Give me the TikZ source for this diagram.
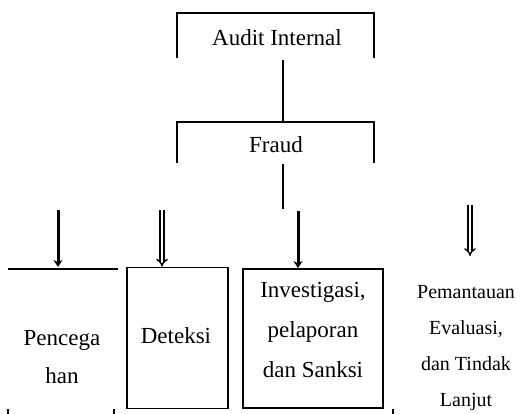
\documentclass[tikz,border=0pt]{standalone}
\usepackage{fontspec}
\setmainfont{Liberation Serif}
\usetikzlibrary{arrows.meta}
\begin{document}
\begin{tikzpicture}[x=1pt,y=-1pt,
  lbl/.style={font=\fontsize{23}{38}\selectfont, align=center, inner sep=0pt},
  lblb/.style={font=\fontsize{20}{36}\selectfont, align=center, inner sep=0pt},
  brk/.style={line width=1.8pt},
  boxline/.style={line width=1.8pt},
  sarrow/.style={line width=3pt, -{Stealth[length=7pt,width=9pt]}},
  darrow/.style={double, double distance=2.4pt, line width=1.4pt, -{Implies[length=5pt]}}]
\useasboundingbox (0,0) rectangle (532,414);
% top bracket
\coordinate (a1) at (177,58);
\coordinate (a2) at (374,58);
\draw[brk] (a1) |- (283,13) -| (a2);
\node[lbl] (audit) at (277,38) {Audit Internal};
\coordinate (c1) at (283,60);
\coordinate (c2) at (283,122);
\draw[brk] (c1) -- (c2);
% second bracket
\coordinate (b1) at (177,163);
\coordinate (b2) at (374,163);
\draw[brk] (b1) |- (c2) -| (b2);
\node[lbl] (fraud) at (276,145) {Fraud};
\coordinate (d1) at (283,164);
\coordinate (d2) at (283,209);
\draw[brk] (d1) -- (d2);
% box 1
\coordinate (p1) at (8,269);
\coordinate (p2) at (118,269);
\draw[boxline] (p1) -- (p2);
\node[lbl] (pen) at (62,357) {Pencega\\han};
% box 2
\node[draw, boxline, minimum width=101pt, minimum height=141pt, inner sep=0pt] (det) at (177.5,338) {};
\node[lbl] (dett) at (176,336) {Deteksi};
% box 3
\node[draw, boxline, minimum width=140pt, minimum height=139pt, inner sep=0pt] (inv) at (313,338.5) {};
\node[lbl, font=\fontsize{23}{40}\selectfont] (invt) at (313,330) {Investigasi,\\pelaporan\\dan Sanksi};
% item 4
\node[lblb] (pem) at (466,348) {Pemantauan\\Evaluasi,\\dan Tindak\\Lanjut};
% arrows
\coordinate (s1) at (58,210);
\coordinate (s2) at (162,210);
\coordinate (s3) at (298,211);
\coordinate (s4) at (470,205);
\coordinate (e1) at (58,267);
\coordinate (e4) at (470,256);
\draw[sarrow] (s1) -- (e1);
\draw[darrow] (s2) -- (s2 |- det.north);
\draw[sarrow] (s3) -- (s3 |- inv.north);
\draw[darrow] (s4) -- (e4);
% bottom ticks
\coordinate (t1) at (8,409); \coordinate (t1e) at (8,414);
\coordinate (t2) at (114,409); \coordinate (t2e) at (114,414);
\coordinate (t3) at (393,409); \coordinate (t3e) at (393,414);
\draw[brk] (t1) -- (t1e) (t2) -- (t2e) (t3) -- (t3e);
\end{tikzpicture}
\end{document}
